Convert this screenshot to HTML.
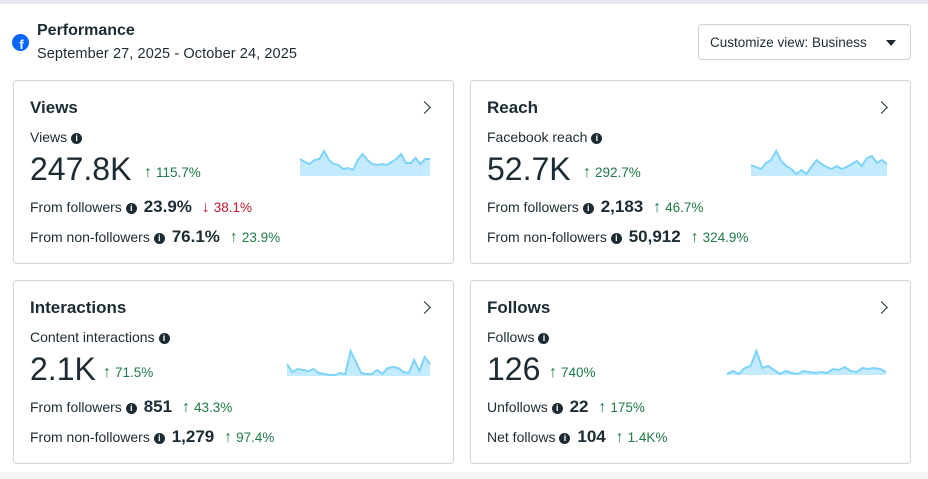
<!DOCTYPE html>
<html><head><meta charset="utf-8"><style>
*{box-sizing:border-box;margin:0;padding:0}
body{width:928px;height:479px;background:#fff;font-family:"Liberation Sans",sans-serif;color:#1c2b33;position:relative;overflow:hidden}
.topband{position:absolute;left:0;top:0;width:928px;height:4px;background:#e8e9ee}
.botband{position:absolute;left:0;top:472px;width:928px;height:7px;background:#f4f5f7}
.card{position:absolute;border:1px solid #cfd4d9;border-radius:4px;background:#fff}
.abs{position:absolute;white-space:nowrap}
.title{font-size:17px;font-weight:bold}
.lbl{font-size:14px;color:#1c2b33}
.big{font-size:32px}
.up{color:#1e7a46;font-size:13.5px}
.down{color:#c0182c;font-size:13.5px}
.ar{font-size:16px;margin-right:4px}
.info{display:inline-block;width:11px;height:11px;border-radius:50%;background:#1c2b33;color:#fff;font-size:9px;font-weight:bold;text-align:center;line-height:11px;vertical-align:1px;margin-left:4px}
.chev{position:absolute;width:9px;height:9px;border-right:1.5px solid #1c2b33;border-top:1.5px solid #1c2b33;transform:rotate(45deg)}
svg{position:absolute}
</style></head><body>
<div class="topband"></div>
<div class="botband"></div>
<svg style="left:12px;top:34px" width="17" height="17"><circle cx="8.5" cy="8.5" r="8.5" fill="#0866ff"/><text x="9.5" y="15" font-size="13" font-weight="bold" fill="#fff" text-anchor="middle" font-family="Liberation Sans">f</text></svg>
<div class="abs" style="left:37px;top:22px;font-size:16px;font-weight:bold">Performance</div>
<div class="abs" style="left:37px;top:46px;font-size:14.5px;letter-spacing:0.1px">September 27, 2025 - October 24, 2025</div>
<div class="abs" style="left:698px;top:24px;width:213px;height:36px;border:1px solid #cbd2d9;border-radius:4px;font-size:13.5px;padding:10px 0 0 11px">Customize view: Business <span style="position:absolute;right:14px;top:15px;border-left:5px solid transparent;border-right:5px solid transparent;border-top:6px solid #1c2b33"></span></div>

<div class="card" style="left:13px;top:80px;width:441px;height:184px"></div>
<div class="card" style="left:470px;top:80px;width:441px;height:184px"></div>
<div class="card" style="left:13px;top:280px;width:441px;height:184px"></div>
<div class="card" style="left:470px;top:280px;width:441px;height:184px"></div>

<!-- Views -->
<div class="abs title" style="left:30px;top:98px">Views</div>
<div class="chev" style="left:420px;top:103px"></div>
<div class="abs lbl" style="left:30px;top:129px">Views<span class="info">i</span></div>
<div class="abs big" style="left:30px;top:151px">247.8K</div>
<div class="abs up" style="left:144px;top:164px"><span class="ar">↑</span>115.7%</div>
<div class="abs lbl" style="left:30px;top:197px">From followers<span class="info">i</span> <b style="font-size:17px;margin-left:3px">23.9%</b> <span class="down" style="margin-left:6px"><span class="ar">↓</span>38.1%</span></div>
<div class="abs lbl" style="left:30px;top:227px">From non-followers<span class="info">i</span> <b style="font-size:17px;margin-left:3px">76.1%</b> <span class="up" style="margin-left:6px"><span class="ar">↑</span>23.9%</span></div>

<!-- Reach -->
<div class="abs title" style="left:487px;top:98px">Reach</div>
<div class="chev" style="left:877px;top:103px"></div>
<div class="abs lbl" style="left:487px;top:129px">Facebook reach<span class="info">i</span></div>
<div class="abs big" style="left:487px;top:151px">52.7K</div>
<div class="abs up" style="left:583px;top:164px"><span class="ar">↑</span>292.7%</div>
<div class="abs lbl" style="left:487px;top:197px">From followers<span class="info">i</span> <b style="font-size:17px;margin-left:3px">2,183</b> <span class="up" style="margin-left:6px"><span class="ar">↑</span>46.7%</span></div>
<div class="abs lbl" style="left:487px;top:227px">From non-followers<span class="info">i</span> <b style="font-size:17px;margin-left:3px">50,912</b> <span class="up" style="margin-left:6px"><span class="ar">↑</span>324.9%</span></div>

<!-- Interactions -->
<div class="abs title" style="left:30px;top:298px">Interactions</div>
<div class="chev" style="left:420px;top:303px"></div>
<div class="abs lbl" style="left:30px;top:329px">Content interactions<span class="info">i</span></div>
<div class="abs big" style="left:30px;top:351px">2.1K</div>
<div class="abs up" style="left:103px;top:364px"><span class="ar">↑</span>71.5%</div>
<div class="abs lbl" style="left:30px;top:397px">From followers<span class="info">i</span> <b style="font-size:17px;margin-left:3px">851</b> <span class="up" style="margin-left:6px"><span class="ar">↑</span>43.3%</span></div>
<div class="abs lbl" style="left:30px;top:427px">From non-followers<span class="info">i</span> <b style="font-size:17px;margin-left:3px">1,279</b> <span class="up" style="margin-left:6px"><span class="ar">↑</span>97.4%</span></div>

<!-- Follows -->
<div class="abs title" style="left:487px;top:298px">Follows</div>
<div class="chev" style="left:877px;top:303px"></div>
<div class="abs lbl" style="left:487px;top:329px">Follows<span class="info">i</span></div>
<div class="abs big" style="left:487px;top:351px">126</div>
<div class="abs up" style="left:549px;top:364px"><span class="ar">↑</span>740%</div>
<div class="abs lbl" style="left:487px;top:397px">Unfollows<span class="info">i</span> <b style="font-size:17px;margin-left:3px">22</b> <span class="up" style="margin-left:6px"><span class="ar">↑</span>175%</span></div>
<div class="abs lbl" style="left:487px;top:427px">Net follows<span class="info">i</span> <b style="font-size:17px;margin-left:3px">104</b> <span class="up" style="margin-left:6px"><span class="ar">↑</span>1.4K%</span></div>

<script>
const viewsSeries=[17,14,12,16,17,25,16,12,11,7,8,6,16,22,16,12,11,12,11,14,17,22,13,13,18,12,17,17];
const reachSeries=[11,9,7,13,16,25,15,10,7,2,6,2,9,16,12,9,7,10,7,9,12,15,10,18,20,13,16,12];
const interactionsSeries=[12,4,7,6,5,7,3,2,1,1,3,2,25,14,3,2,2,6,2,8,9,8,4,3,16,5,19,12];
const followsSeries=[1,4,1,7,9,24,7,9,5,1,4,2,1,4,3,2,3,2,6,5,8,4,3,7,6,7,6,3];
function spark(name,data,x0,x1,base,maxH){
  const ns='http://www.w3.org/2000/svg';
  const svg=document.createElementNS(ns,'svg');
  
  
  svg.setAttribute('width',928);svg.setAttribute('height',479);
  svg.style.left='0';svg.style.top='0';
  const mx=Math.max(...data);
  const xs=i=>x0+(x1-x0)*i/(data.length-1);
  const ys=v=>base-v/mx*maxH;
  let line=data.map((v,i)=>(i?'L':'M')+xs(i).toFixed(1)+','+ys(v).toFixed(1)).join('');
  const area=document.createElementNS(ns,'path');
  area.setAttribute('d',line+`L${x1},${base}L${x0},${base}Z`);
  area.setAttribute('fill','#c4ebfd');
  
  
  const p=document.createElementNS(ns,'path');
  p.setAttribute('d',line);p.setAttribute('fill','none');p.setAttribute('stroke','#7dd3fa');p.setAttribute('stroke-width','2');
  
  
  svg.appendChild(area);svg.appendChild(p);document.body.appendChild(svg);
}
spark('views-sparkline',viewsSeries,300,430,176,25);
spark('reach-sparkline',reachSeries,751,887,176,25);
spark('interactions-sparkline',interactionsSeries,287,430,376,25);
spark('follows-sparkline',followsSeries,727,886,375,24);
</script>
</body></html>
